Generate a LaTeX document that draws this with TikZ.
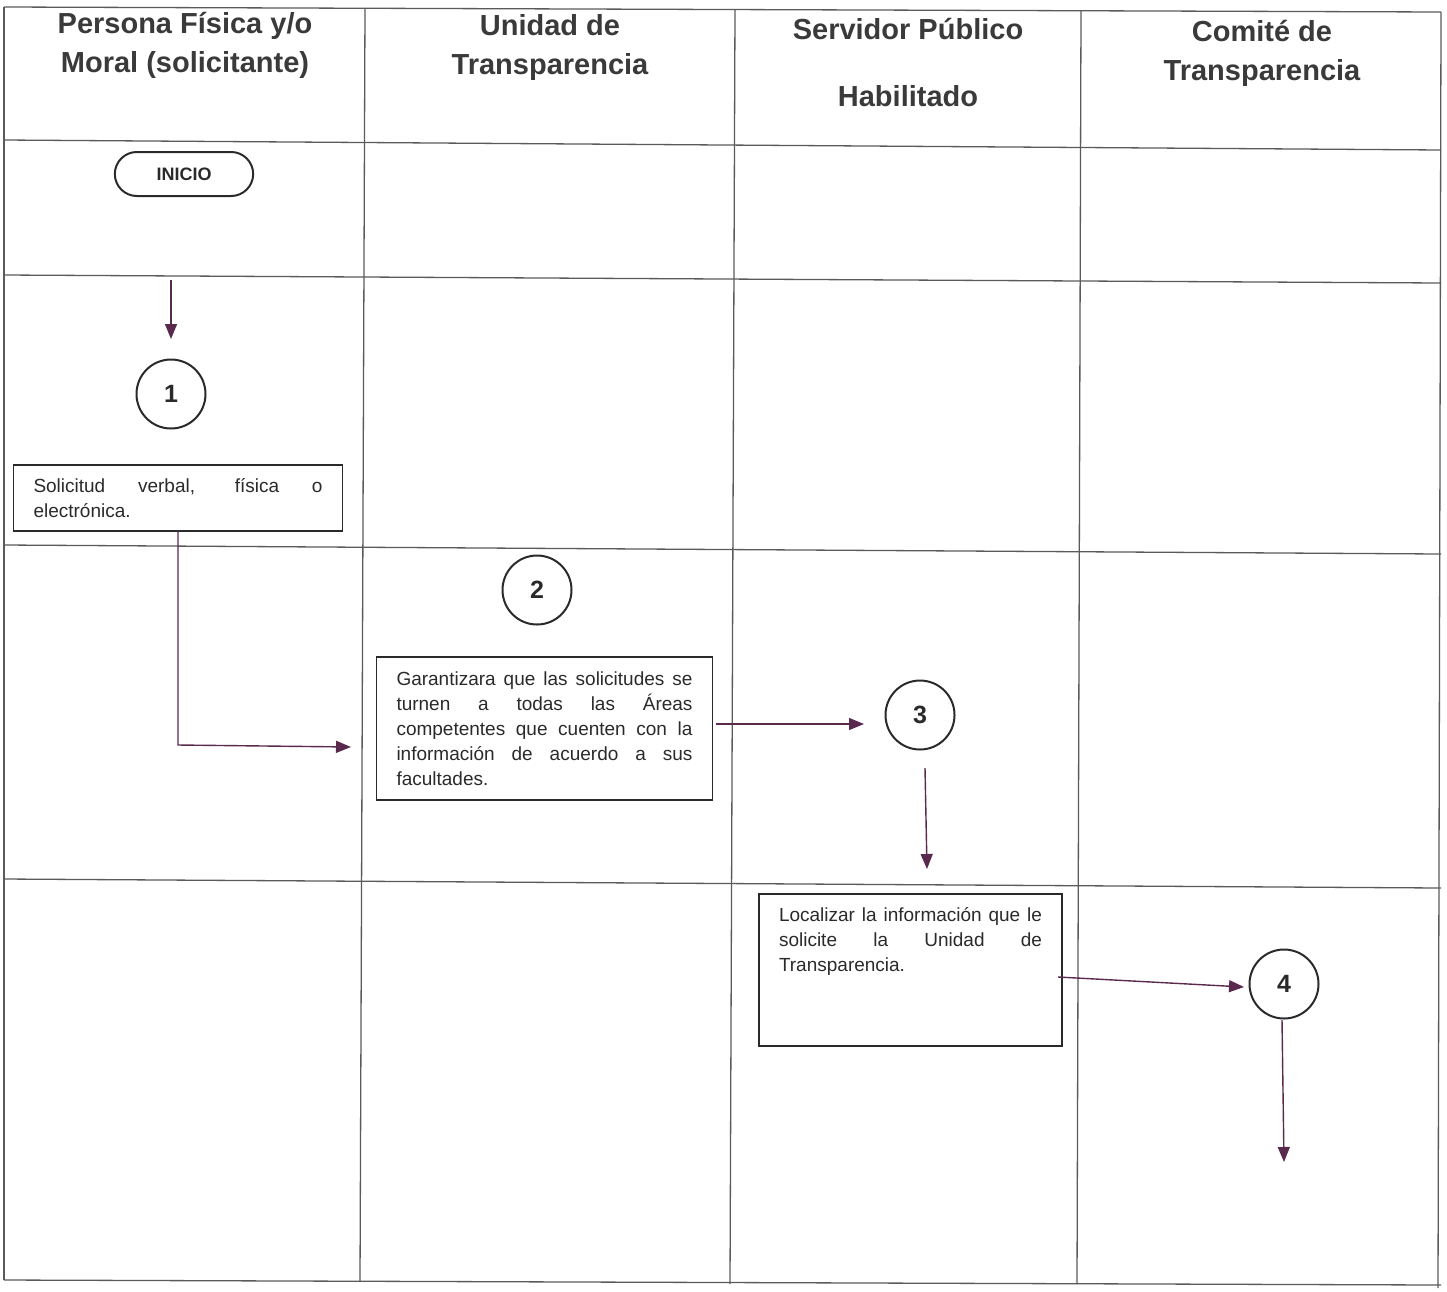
\documentclass[tikz,border=0pt]{standalone}
\usepackage{fontspec}
\setmainfont{Liberation Sans}
\usetikzlibrary{arrows.meta,shapes.misc}
\definecolor{gridc}{HTML}{5A5A5A}
\definecolor{inkc}{HTML}{2A2A2A}
\definecolor{arrc}{HTML}{5A2A4E}
\definecolor{headc}{HTML}{3A3A3A}
\tikzset{
  gridline/.style={draw=gridc,line width=1.3pt},
  header/.style={font=\fontsize{29}{39}\selectfont\bfseries,text=headc,align=center,inner sep=0pt},
  stepcircle/.style={circle,draw=inkc,line width=2pt,minimum size=69pt,inner sep=0pt,
     font=\fontsize{25}{25}\selectfont\bfseries,text=inkc},
  procbox/.style={rectangle,draw=inkc,line width=1.8pt,align=justify,inner xsep=20pt,
     font=\fontsize{19}{25}\selectfont,text=inkc},
  startbox/.style={rounded rectangle,draw=inkc,line width=2pt,minimum width=145pt,minimum height=44pt,
     font=\fontsize{18}{18}\selectfont\bfseries,text=inkc},
  flow/.style={draw=arrc,line width=1.4pt,-{Triangle[length=15pt,width=12pt]}}
}
\begin{document}
\begin{tikzpicture}[x=1pt,y=-1pt]
\useasboundingbox (0,0) rectangle (1447,1291);
% table grid
\draw[gridline] (4,7) -- (1441,12);
\draw[gridline] (4,140) -- (1441,150);
\draw[gridline] (4,275) -- (1441,283);
\draw[gridline] (4,545) -- (1441,554);
\draw[gridline] (4,879) -- (1441,888);
\draw[gridline] (4,1280) -- (1441,1285);
\draw[gridline] (4,7) -- (4,1280);
\draw[gridline] (365,8) -- (360,1282);
\draw[gridline] (735,9) -- (730,1284);
\draw[gridline] (1081,10) -- (1077,1284);
\draw[gridline] (1441,12) -- (1438,1288);
% headers
\node[header] (h1) at (185,45) {Persona Física y/o\\Moral (solicitante)};
\node[header] (h2) at (550,47) {Unidad de\\Transparencia};
\node[header] (h3) at (908,63) {Servidor Público\\[28pt]Habilitado};
\node[header] (h4) at (1262,53) {Comité de\\Transparencia};
% start
\node[startbox] (ini) at (184,174) {INICIO};
% step 1
\node[stepcircle] (c1) at (171,394) {1};
\node[procbox,text width=289pt,minimum height=66pt] (b1) at (178,498)
  {Solicitud verbal, física o\linebreak electrónica.};
% step 2
\node[stepcircle] (c2) at (537,590) {2};
\node[procbox,text width=296pt,minimum height=143pt] (b2) at (544.5,728.5)
  {Garantizara que las solicitudes se\linebreak turnen a todas las Áreas\linebreak competentes que cuenten con la\linebreak información de acuerdo a sus\linebreak facultades.};
% step 3
\node[stepcircle] (c3) at (920,715) {3};
\node[procbox,text width=263pt,inner ysep=14pt,minimum height=152pt,anchor=north] (b3) at (910.5,893)
  {Localizar la información que le\linebreak solicite la Unidad de\linebreak Transparencia.\par\vspace*{56pt}};
% step 4
\node[stepcircle] (c4) at (1284,984) {4};
% connectors
\coordinate (a1s) at (171,280);
\coordinate (a1e) at (171,339);
\draw[flow] (a1s) -- (a1e);
\coordinate (a2s) at (178,531);
\coordinate (a2m) at (178,745);
\coordinate (a2e) at (351,747);
\draw[flow] (a2s) -- (a2m) -- (a2e);
\coordinate (a3s) at (716,724);
\coordinate (a3e) at (864,724);
\draw[flow] (a3s) -- (a3e);
\coordinate (a4s) at (925,768);
\coordinate (a4e) at (927,869);
\draw[flow] (a4s) -- (a4e);
\coordinate (a5s) at (1058,977);
\coordinate (a5e) at (1244,987);
\draw[flow] (a5s) -- (a5e);
\coordinate (a6s) at (1282,1020);
\coordinate (a6e) at (1284,1162);
\draw[flow] (a6s) -- (a6e);
\end{tikzpicture}
\end{document}
